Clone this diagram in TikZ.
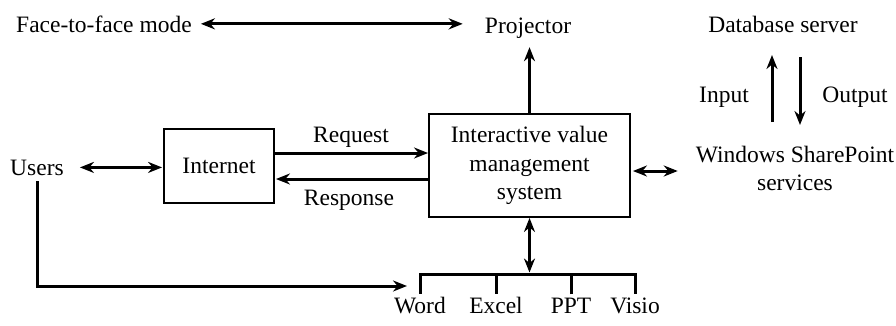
\documentclass[tikz,border=0pt]{standalone}
\usepackage{fontspec}
\setmainfont{Liberation Serif}
\newfontfamily\diagfont{Liberation Serif}
\usetikzlibrary{arrows.meta}
\begin{document}
\begin{tikzpicture}[x=1pt,y=-1pt,
  >={Stealth[length=14pt,width=11pt]},
  txt/.style={font=\diagfont\fontsize{23.5}{28.5}\selectfont, inner sep=0pt, align=center},
  boxn/.style={draw, line width=1.9pt, inner sep=0pt, font=\diagfont\fontsize{23.5}{28.5}\selectfont, align=center},
  conn/.style={line width=3pt, ->},
  dconn/.style={line width=3pt, <->},
  wire/.style={line width=3pt, line join=miter}]
\useasboundingbox (0,0) rectangle (896,325);

% text nodes
\node[txt, anchor=base west] (f2f) at (16,32) {Face-to-face mode};
\node[txt, anchor=base] (proj) at (528,33) {Projector};
\node[txt, anchor=base] (db) at (783,32) {Database server};
\node[txt, anchor=base] (inp) at (724,102) {Input};
\node[txt, anchor=base] (outp) at (855,102) {Output};
\node[txt] (wsp) at (795,168.5) {Windows SharePoint\\services};
\node[txt, anchor=base] (users) at (37,175) {Users};
\node[txt, anchor=base] (req) at (351,142) {Request};
\node[txt, anchor=base] (resp) at (349,205) {Response};
\node[txt, anchor=base] (word) at (420,313) {Word};
\node[txt, anchor=base] (excel) at (496,313) {Excel};
\node[txt, anchor=base] (ppt) at (571,313) {PPT};
\node[txt, anchor=base] (visio) at (635,313) {Visio};

% boxes
\node[boxn, minimum width=201, minimum height=103] (ivms) at (529.5,165.5) {Interactive value\\management\\system};
\node[boxn, minimum width=110, minimum height=74] (inet) at (219,166) {Internet};

% helper coordinates
\coordinate (e1) at ([yshift=-5.5pt]ivms.east);
\coordinate (r1) at ([yshift=13pt]inet.east);
\coordinate (r2) at ([yshift=-13pt]inet.east);
\coordinate (bt) at (529.5,274);
\coordinate (uend) at (407,286);
\coordinate (inB) at (772,122);
\coordinate (inT) at (772,55);
\coordinate (outT) at (800,57);
\coordinate (outB) at (800,125);

% connectors
\draw[dconn, shorten <=9pt, shorten >=22pt] (f2f.east) -- (f2f.east -| proj.west);
\draw[conn, shorten >=9pt] (ivms.north) -- (ivms.north |- proj.south);
\draw[dconn, shorten <=2pt, shorten >=18pt] (e1) -- (e1 -| wsp.west);
\draw[dconn, shorten <=16pt, shorten >=1pt] (users.east) -- (inet.west |- users.east);
\draw[conn] (r1) -- (r1 -| ivms.west);
\draw[conn, shorten >=1pt] (r2 -| ivms.west) -- (r2);
\draw[conn] (inB) -- (inT);
\draw[conn] (outT) -- (outB);
\draw[dconn, shorten >=1.5pt] (ivms.south) -- (bt);
\draw[wire] ([yshift=3pt]word.north) |- (bt) -| ([yshift=3pt]visio.north);
\draw[wire] ([yshift=3pt]excel.north) -- (excel.north |- bt);
\draw[wire] ([yshift=3pt]ppt.north) -- (ppt.north |- bt);
\draw[conn, line join=miter] ([yshift=-6pt]users.south) |- (uend);
\end{tikzpicture}
\end{document}
